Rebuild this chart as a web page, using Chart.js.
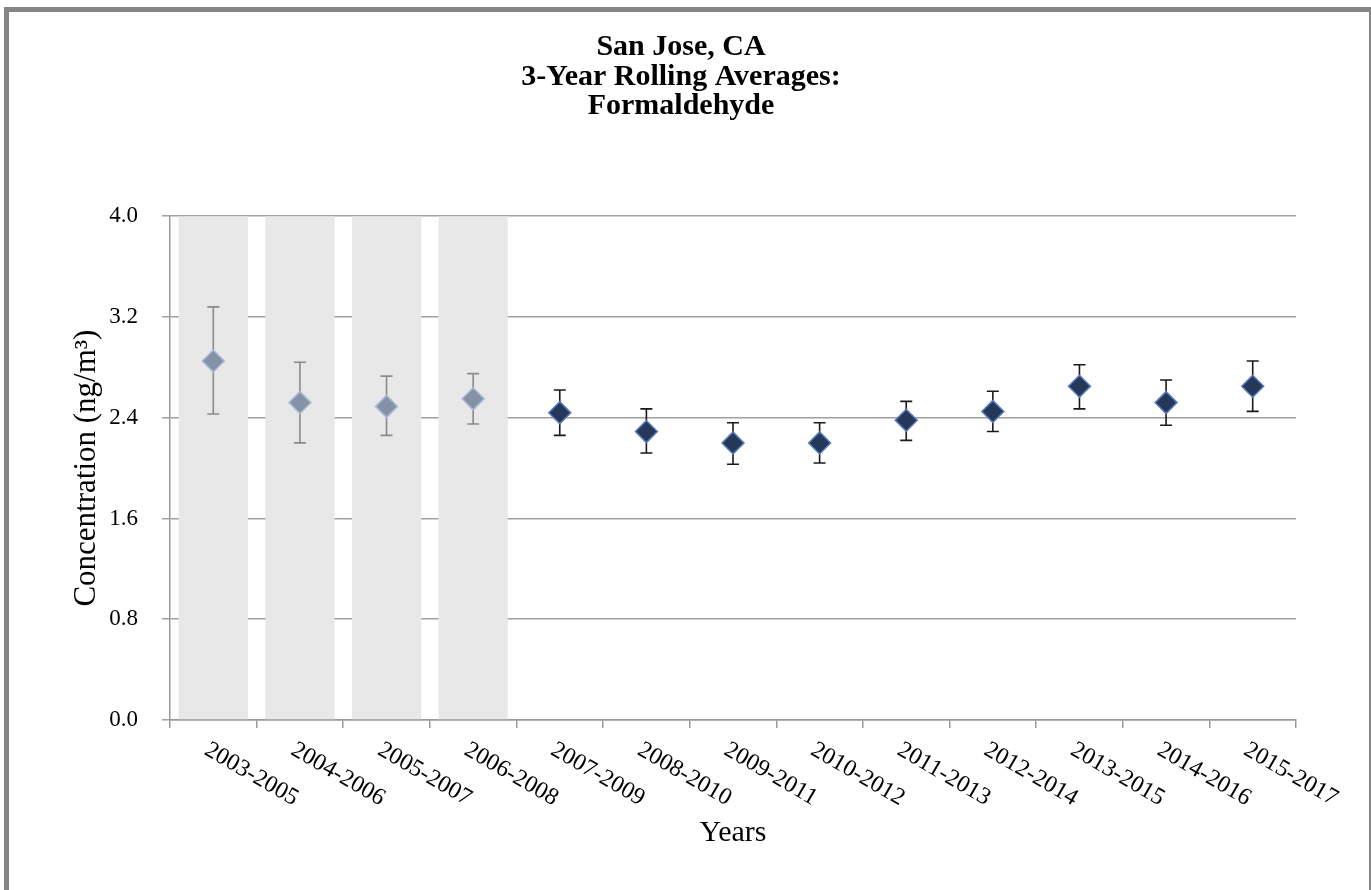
<!DOCTYPE html>
<html>
<head>
<meta charset="utf-8">
<script src="https://cdn.jsdelivr.net/npm/chart.js@4.4.1/dist/chart.umd.min.js"></script>
<style>
  html, body { margin: 0; padding: 0; background: #fff; }
  #wrap { position: relative; width: 1371px; height: 890px; overflow: hidden; }
  #frame {
    position: absolute; left: 4px; top: 7px; width: 1360px; height: 900px;
    border-top: 5px solid #858585; border-left: 5px solid #858585; border-right: 2px solid #858585;
    pointer-events: none;
  }
  canvas { position: absolute; left: 0; top: 0; }
</style>
</head>
<body>
<div id="wrap">
  <canvas id="chart" width="1371" height="890"></canvas>
  <div id="frame"></div>
</div>
<script>
'use strict';

// 3-year windows on the x axis
const periods = ['2003-2005', '2004-2006', '2005-2007', '2006-2008', '2007-2009', '2008-2010',
  '2009-2011', '2010-2012', '2011-2013', '2012-2014', '2013-2015', '2014-2016', '2015-2017'];

// rolling averages and the ends of their error bars (ng/m3)
const averages = [2.85, 2.52, 2.49, 2.55, 2.44, 2.29, 2.20, 2.20, 2.38, 2.45, 2.65, 2.52, 2.65];
const upperBounds = [3.28, 2.84, 2.73, 2.75, 2.62, 2.47, 2.36, 2.36, 2.53, 2.61, 2.82, 2.70, 2.85];
const lowerBounds = [2.43, 2.20, 2.26, 2.35, 2.26, 2.12, 2.03, 2.04, 2.22, 2.29, 2.47, 2.34, 2.45];

// periods shown with a grey background
const shadedPeriods = ['2003-2005', '2004-2006', '2005-2007', '2006-2008'];

const yTicks = [0.0, 0.8, 1.6, 2.4, 3.2, 4.0];

const serif = '"Liberation Serif", "Times New Roman", serif';

const isShaded = periods.map(p => shadedPeriods.includes(p));
const yMax = yTicks[yTicks.length - 1];

// error bars, drawn just before each point dataset so the diamonds sit on top
const errorBars = {
  id: 'errorBars',
  beforeDatasetDraw(chart, args) {
    const ds = chart.data.datasets[args.index];
    if (!ds.errColor) return;
    const ctx = chart.ctx;
    const x = chart.scales.x;
    const y = chart.scales.y;
    ctx.save();
    ctx.strokeStyle = ds.errColor;
    ctx.lineWidth = 1.6;
    ds.data.forEach((v, i) => {
      if (v == null) return;
      const px = x.getPixelForValue(i);
      const top = y.getPixelForValue(upperBounds[i]);
      const bot = y.getPixelForValue(lowerBounds[i]);
      ctx.beginPath();
      ctx.moveTo(px, top); ctx.lineTo(px, bot);
      ctx.moveTo(px - 6, top); ctx.lineTo(px + 6, top);
      ctx.moveTo(px - 6, bot); ctx.lineTo(px + 6, bot);
      ctx.stroke();
    });
    ctx.restore();
  }
};

// x labels slanting down to the right
const slantLabels = {
  id: 'slantLabels',
  afterDraw(chart) {
    const ctx = chart.ctx;
    const x = chart.scales.x;
    const top = chart.chartArea.bottom + 18;
    ctx.save();
    ctx.font = '24px ' + serif;
    ctx.fillStyle = '#000';
    ctx.textAlign = 'left';
    ctx.textBaseline = 'top';
    periods.forEach((p, i) => {
      ctx.save();
      ctx.translate(x.getPixelForValue(i) - 1, top);
      ctx.rotate(Math.PI / 6);
      ctx.fillText(p, 0, 0);
      ctx.restore();
    });
    ctx.restore();
  }
};

new Chart(document.getElementById('chart'), {
  type: 'bar',
  data: {
    labels: periods,
    datasets: [{
      type: 'line',
      label: 'Incomplete',
      data: averages.map((v, i) => isShaded[i] ? v : null),
      showLine: false,
      pointStyle: 'rectRot',
      pointRadius: 11,
      pointHoverRadius: 11,
      pointBackgroundColor: '#8592a6',
      pointBorderColor: '#a9b9d9',
      pointBorderWidth: 1.5,
      errColor: '#8a8a8a',
      order: 0
    }, {
      type: 'line',
      label: 'Average',
      data: averages.map((v, i) => isShaded[i] ? null : v),
      showLine: false,
      pointStyle: 'rectRot',
      pointRadius: 11,
      pointHoverRadius: 11,
      pointBackgroundColor: '#26385a',
      pointBorderColor: '#5a7dbd',
      pointBorderWidth: 1.5,
      errColor: '#1a1a1a',
      order: 0
    }, {
      label: 'Shading',
      data: isShaded.map(s => s ? yMax : null),
      backgroundColor: '#e8e8e8',
      categoryPercentage: 1,
      barPercentage: 0.8,
      order: 5
    }]
  },
  options: {
    responsive: false,
    animation: false,
    layout: { padding: { left: 66, right: 75, top: 0, bottom: 35 } },
    plugins: {
      legend: { display: false },
      tooltip: { enabled: false },
      title: {
        display: true,
        text: ['San Jose, CA', '3-Year Rolling Averages:', 'Formaldehyde'],
        color: '#000',
        font: { family: serif, size: 30, weight: 'bold', lineHeight: 0.98 },
        padding: { top: 33, bottom: 95 }
      }
    },
    scales: {
      x: {
        offset: true,
        grid: { offset: true, drawOnChartArea: false, tickLength: 8, color: '#9a9a9a', lineWidth: 1.5 },
        border: { color: '#9a9a9a', width: 1.5 },
        ticks: { display: false },
        title: {
          display: true, text: 'Years', color: '#000',
          font: { family: serif, size: 30 }, padding: { top: 4, bottom: 4 }
        },
        afterFit(scale) { scale.height = 135; }
      },
      y: {
        min: 0,
        max: yMax,
        afterBuildTicks(scale) { scale.ticks = yTicks.map(v => ({ value: v })); },
        grid: { tickLength: 8, color: '#a0a0a0', lineWidth: 1.5 },
        border: { color: '#9a9a9a', width: 1.5 },
        ticks: {
          color: '#000', padding: 24,
          font: { family: serif, size: 23 },
          callback: v => Number(v).toFixed(1)
        },
        title: {
          display: true, text: 'Concentration (ng/m³)', color: '#000',
          font: { family: serif, size: 31 }, padding: { top: 2, bottom: 4 }
        },
        afterFit(scale) { scale.width = 104; }
      }
    }
  },
  plugins: [errorBars, slantLabels]
});
</script>
</body>
</html>
